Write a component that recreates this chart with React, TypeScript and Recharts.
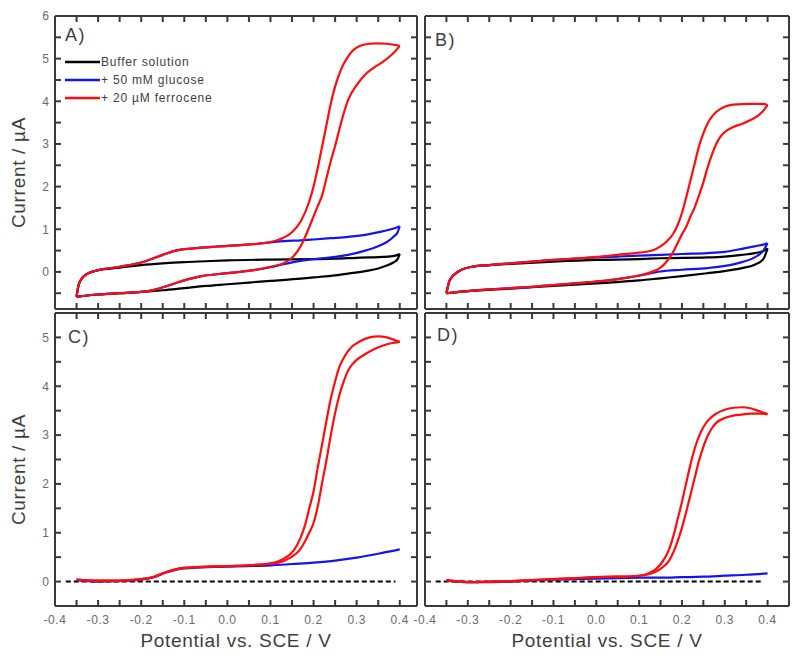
import React from "react";
import { LineChart, Line, XAxis, YAxis, Legend, Label } from "recharts";

type Pt = [number, number];

// Panel A: raw CVs (potential / V, current / uA), upper and lower branch of each loop
const aBufferUpper: Pt[] = [[-0.35,-0.58],[-0.345,-0.3],[-0.335,-0.12],[-0.32,-0.02],[-0.3,0.04],[-0.25,0.1],[-0.2,0.16],[-0.15,0.2],[-0.1,0.23],[-0.05,0.25],[0,0.27],[0.1,0.29],[0.2,0.3],[0.25,0.31],[0.3,0.33],[0.33,0.34],[0.36,0.35],[0.39,0.38],[0.4,0.42]];
const aBufferLower: Pt[] = [[-0.35,-0.58],[-0.3,-0.53],[-0.25,-0.5],[-0.2,-0.47],[-0.15,-0.43],[-0.1,-0.38],[-0.05,-0.33],[0,-0.29],[0.05,-0.25],[0.1,-0.21],[0.17,-0.16],[0.2,-0.13],[0.25,-0.08],[0.28,-0.04],[0.32,0.02],[0.35,0.08],[0.37,0.15],[0.385,0.22],[0.395,0.3],[0.4,0.42]];
const aGlucoseUpper: Pt[] = [[-0.35,-0.58],[-0.345,-0.3],[-0.335,-0.12],[-0.32,-0.02],[-0.3,0.04],[-0.25,0.12],[-0.2,0.22],[-0.15,0.4],[-0.12,0.5],[-0.08,0.55],[-0.03,0.59],[0.02,0.62],[0.07,0.66],[0.1,0.69],[0.13,0.72],[0.17,0.74],[0.2,0.76],[0.24,0.79],[0.28,0.82],[0.32,0.87],[0.36,0.95],[0.39,1.03],[0.4,1.07]];
const aGlucoseLower: Pt[] = [[-0.35,-0.58],[-0.3,-0.53],[-0.25,-0.5],[-0.2,-0.47],[-0.17,-0.42],[-0.14,-0.33],[-0.1,-0.2],[-0.06,-0.1],[-0.02,-0.05],[0.02,-0.01],[0.06,0.04],[0.1,0.11],[0.13,0.18],[0.17,0.26],[0.2,0.3],[0.24,0.34],[0.28,0.4],[0.32,0.5],[0.35,0.6],[0.37,0.7],[0.385,0.82],[0.395,0.93],[0.4,1.07]];
const aFerroceneUpper: Pt[] = [[-0.35,-0.58],[-0.345,-0.3],[-0.335,-0.12],[-0.32,-0.02],[-0.3,0.04],[-0.25,0.12],[-0.2,0.22],[-0.15,0.4],[-0.12,0.5],[-0.08,0.55],[-0.03,0.59],[0.02,0.62],[0.07,0.66],[0.1,0.7],[0.13,0.8],[0.15,0.93],[0.17,1.18],[0.19,1.65],[0.2,2.0],[0.21,2.45],[0.22,2.95],[0.23,3.45],[0.24,3.95],[0.25,4.35],[0.26,4.65],[0.27,4.88],[0.28,5.05],[0.29,5.18],[0.3,5.26],[0.31,5.31],[0.33,5.35],[0.35,5.36],[0.37,5.35],[0.39,5.32],[0.4,5.3]];
const aFerroceneLower: Pt[] = [[-0.35,-0.58],[-0.3,-0.53],[-0.25,-0.5],[-0.2,-0.47],[-0.17,-0.42],[-0.14,-0.33],[-0.1,-0.2],[-0.06,-0.1],[-0.02,-0.05],[0.02,-0.01],[0.06,0.04],[0.1,0.12],[0.13,0.2],[0.15,0.33],[0.17,0.6],[0.19,1.05],[0.2,1.3],[0.21,1.55],[0.22,1.8],[0.23,2.2],[0.24,2.6],[0.25,2.95],[0.26,3.35],[0.27,3.72],[0.28,4.03],[0.3,4.38],[0.32,4.63],[0.34,4.79],[0.36,4.92],[0.38,5.08],[0.39,5.18],[0.4,5.3]];

// Panel B
const bBufferUpper: Pt[] = [[-0.35,-0.5],[-0.342,-0.19],[-0.322,0.01],[-0.29,0.12],[-0.25,0.16],[-0.2,0.19],[-0.1,0.24],[0,0.28],[0.1,0.3],[0.15,0.32],[0.26,0.34],[0.3,0.36],[0.34,0.4],[0.37,0.44],[0.39,0.49],[0.4,0.55]];
const bBufferLower: Pt[] = [[-0.35,-0.5],[-0.3,-0.45],[-0.2,-0.39],[-0.1,-0.33],[0,-0.27],[0.1,-0.2],[0.15,-0.15],[0.2,-0.1],[0.26,-0.03],[0.3,0.02],[0.34,0.09],[0.37,0.17],[0.39,0.3],[0.4,0.55]];
const bGlucoseUpper: Pt[] = [[-0.35,-0.5],[-0.342,-0.19],[-0.322,0.01],[-0.29,0.12],[-0.25,0.16],[-0.2,0.2],[-0.15,0.24],[-0.1,0.28],[-0.05,0.31],[0,0.34],[0.05,0.36],[0.1,0.38],[0.15,0.4],[0.2,0.42],[0.26,0.44],[0.3,0.47],[0.34,0.54],[0.37,0.6],[0.39,0.64],[0.4,0.67]];
const bGlucoseLower: Pt[] = [[-0.35,-0.5],[-0.3,-0.45],[-0.25,-0.41],[-0.2,-0.38],[-0.15,-0.35],[-0.1,-0.31],[-0.05,-0.27],[0,-0.23],[0.05,-0.17],[0.1,-0.09],[0.15,0.01],[0.2,0.05],[0.26,0.09],[0.3,0.14],[0.34,0.23],[0.37,0.34],[0.39,0.5],[0.4,0.67]];
const bFerroceneUpper: Pt[] = [[-0.35,-0.5],[-0.342,-0.19],[-0.322,0.01],[-0.29,0.12],[-0.25,0.16],[-0.2,0.2],[-0.15,0.24],[-0.1,0.28],[-0.05,0.31],[0,0.35],[0.05,0.4],[0.1,0.45],[0.13,0.5],[0.15,0.6],[0.165,0.72],[0.18,0.9],[0.19,1.1],[0.2,1.38],[0.21,1.75],[0.22,2.15],[0.23,2.55],[0.24,2.95],[0.25,3.25],[0.26,3.48],[0.27,3.64],[0.28,3.75],[0.3,3.87],[0.32,3.92],[0.36,3.94],[0.39,3.94],[0.4,3.91]];
const bFerroceneLower: Pt[] = [[-0.35,-0.5],[-0.3,-0.45],[-0.25,-0.41],[-0.2,-0.38],[-0.15,-0.35],[-0.1,-0.31],[-0.05,-0.27],[0,-0.23],[0.05,-0.17],[0.086,-0.11],[0.11,-0.06],[0.13,0.0],[0.15,0.1],[0.165,0.25],[0.178,0.44],[0.19,0.68],[0.2,0.88],[0.21,1.06],[0.22,1.3],[0.23,1.52],[0.24,1.8],[0.25,2.1],[0.26,2.45],[0.27,2.75],[0.28,3.0],[0.29,3.17],[0.3,3.28],[0.32,3.4],[0.34,3.47],[0.36,3.56],[0.38,3.68],[0.39,3.78],[0.4,3.91]];

// Panel C: buffer-subtracted
const cBaseline: Pt[] = [[-0.375,0],[0.39,0]];
const cGlucose: Pt[] = [[-0.35,0.03],[-0.3,0.0],[-0.25,0.01],[-0.2,0.04],[-0.17,0.09],[-0.14,0.19],[-0.11,0.26],[-0.08,0.28],[-0.03,0.3],[0.02,0.31],[0.06,0.32],[0.1,0.33],[0.15,0.36],[0.2,0.39],[0.25,0.43],[0.3,0.49],[0.35,0.57],[0.4,0.66]];
const cFerroceneUpper: Pt[] = [[-0.35,0.04],[-0.3,0.02],[-0.25,0.02],[-0.2,0.05],[-0.17,0.1],[-0.14,0.2],[-0.11,0.27],[-0.08,0.29],[-0.03,0.31],[0.02,0.32],[0.06,0.34],[0.09,0.36],[0.12,0.42],[0.14,0.52],[0.155,0.65],[0.17,0.9],[0.18,1.15],[0.19,1.5],[0.2,1.85],[0.21,2.35],[0.22,2.82],[0.23,3.3],[0.24,3.75],[0.25,4.1],[0.26,4.4],[0.27,4.58],[0.28,4.72],[0.29,4.82],[0.3,4.88],[0.31,4.93],[0.33,5.0],[0.35,5.02],[0.37,5.0],[0.39,4.94],[0.4,4.91]];
const cFerroceneLower: Pt[] = [[-0.35,0.04],[-0.3,0.02],[-0.25,0.02],[-0.2,0.05],[-0.17,0.1],[-0.14,0.2],[-0.11,0.27],[-0.08,0.29],[-0.03,0.31],[0.02,0.32],[0.06,0.34],[0.1,0.37],[0.12,0.39],[0.144,0.48],[0.168,0.65],[0.18,0.82],[0.19,1.0],[0.2,1.2],[0.21,1.55],[0.22,2.03],[0.23,2.49],[0.24,3.0],[0.25,3.45],[0.26,3.82],[0.27,4.1],[0.28,4.32],[0.29,4.45],[0.3,4.54],[0.32,4.66],[0.34,4.76],[0.36,4.83],[0.38,4.88],[0.4,4.91]];

// Panel D
const dBaseline: Pt[] = [[-0.375,0],[0.39,0]];
const dGlucose: Pt[] = [[-0.35,0.02],[-0.3,-0.01],[-0.25,-0.01],[-0.2,0.0],[-0.15,0.02],[-0.1,0.04],[-0.05,0.05],[0,0.06],[0.05,0.07],[0.1,0.08],[0.15,0.08],[0.2,0.09],[0.25,0.1],[0.3,0.12],[0.35,0.14],[0.4,0.17]];
const dFerroceneUpper: Pt[] = [[-0.35,0.03],[-0.3,-0.01],[-0.25,0.0],[-0.2,0.01],[-0.15,0.03],[-0.1,0.05],[-0.05,0.07],[0,0.09],[0.05,0.1],[0.1,0.12],[0.12,0.16],[0.14,0.26],[0.16,0.48],[0.17,0.66],[0.18,0.93],[0.19,1.28],[0.2,1.63],[0.21,2.02],[0.22,2.4],[0.23,2.73],[0.24,2.98],[0.25,3.16],[0.26,3.29],[0.28,3.44],[0.3,3.52],[0.32,3.56],[0.34,3.57],[0.36,3.55],[0.38,3.49],[0.4,3.43]];
const dFerroceneLower: Pt[] = [[-0.35,0.03],[-0.3,-0.01],[-0.25,0.0],[-0.2,0.01],[-0.15,0.03],[-0.1,0.05],[-0.05,0.07],[0,0.09],[0.05,0.1],[0.1,0.12],[0.13,0.17],[0.15,0.26],[0.17,0.43],[0.18,0.6],[0.19,0.83],[0.2,1.1],[0.21,1.43],[0.22,1.78],[0.23,2.13],[0.24,2.48],[0.25,2.76],[0.26,2.98],[0.27,3.14],[0.28,3.25],[0.3,3.35],[0.32,3.4],[0.34,3.42],[0.36,3.44],[0.38,3.44],[0.4,3.43]];

// ticks
const xLabelTicks = [-0.4, -0.3, -0.2, -0.1, 0.0, 0.1, 0.2, 0.3, 0.4];
const xMarkTicks = [-0.35, -0.3, -0.25, -0.2, -0.15, -0.1, -0.05, 0, 0.05, 0.1, 0.15, 0.2, 0.25, 0.3, 0.35, 0.4];
const yTopLabelTicks = [0, 1, 2, 3, 4, 5, 6];
const yTopMarkTicks = [-0.5, 0, 0.5, 1, 1.5, 2, 2.5, 3, 3.5, 4, 4.5, 5, 5.5];
const yBottomLabelTicks = [0, 1, 2, 3, 4, 5];
const yBottomMarkTicks = [0, 0.5, 1, 1.5, 2, 2.5, 3, 3.5, 4, 4.5, 5];

const seriesNames = ["Buffer solution", "+ 50 mM glucose", "+ 20 µM ferrocene"];
const BLACK = "#000000";
const BLUE = "#1414f0";
const RED = "#ff0d0d";
const seriesColors = [BLACK, BLUE, RED];

const W = 800;
const H = 659;
const Y_AXIS_W = 55;
const X_AXIS_H = 53;
const TICK_LEN = 6;
const TICK_W = 2;
const FONT = 'Arial, "Liberation Sans", sans-serif';
const FRAME = "#3a3a3a";
const TICK_TEXT = "#6a6a6a";
const TITLE_TEXT = "#3e3e3e";

const toPoints = (pts: Pt[]) => pts.map(([x, y]) => ({ x, y }));

interface Curve {
  points: Pt[];
  color: string;
  dashed?: boolean;
}

interface Box { left: number; top: number; right: number; bottom: number }

interface PanelProps {
  letter: string;
  letterDx: number;
  letterDy: number;
  box: Box;
  xMax: number;
  yDomain: [number, number];
  yLabelTicks: number[];
  yMarkTicks: number[];
  showX: boolean;
  showY: boolean;
  showLegend?: boolean;
  curves: Curve[];
}

const renderLegend = () => (
  <div style={{ fontFamily: FONT, fontSize: 12, color: "#404040", letterSpacing: 0.8 }}>
    {seriesNames.map((name, i) => (
      <div key={name} style={{ display: "flex", alignItems: "center", height: 17.7 }}>
        <svg width={35} height={6}>
          <line x1={0} y1={3} x2={35} y2={3} stroke={seriesColors[i]} strokeWidth={2.5} />
        </svg>
        <span style={{ marginLeft: 1, whiteSpace: "nowrap" }}>{name}</span>
      </div>
    ))}
  </div>
);

const Panel: React.FC<PanelProps> = ({
  letter, letterDx, letterDy, box, xMax, yDomain, yLabelTicks, yMarkTicks, showX, showY, showLegend, curves,
}) => {
  const xDomain: [number, number] = [-0.4, xMax];
  const margin = {
    top: box.top,
    right: W - box.right,
    bottom: H - box.bottom - (showX ? X_AXIS_H : 0),
    left: box.left - (showY ? Y_AXIS_W : 0),
  };
  const cy = (box.top + box.bottom) / 2 + 10;
  const cx = (box.left + box.right) / 2;
  const [y0, y1] = yDomain;
  const plotW = box.right - box.left;
  const plotH = box.bottom - box.top;
  // same linear mapping as the axes, used only for the frame tick marks
  const px = (v: number) => box.left + ((v + 0.4) / (xMax + 0.4)) * plotW;
  const py = (v: number) => box.bottom - ((v - y0) / (y1 - y0)) * plotH;

  const frameAxis = {
    type: "number" as const,
    allowDataOverflow: true,
    mirror: true,
    tick: false,
    tickLine: false,
    axisLine: { stroke: FRAME, strokeWidth: 2 },
  };

  // panel letter plus the inward tick marks of all four edges
  const renderFrameDecor = () => (
    <g>
      {xMarkTicks.map((t) => (
        <rect key={`b${t}`} x={px(t) - TICK_W / 2} y={box.bottom - TICK_LEN} width={TICK_W} height={TICK_LEN} fill={FRAME} />
      ))}
      {xMarkTicks.map((t) => (
        <rect key={`t${t}`} x={px(t) - TICK_W / 2} y={box.top} width={TICK_W} height={TICK_LEN} fill={FRAME} />
      ))}
      {yMarkTicks.map((t) => (
        <rect key={`l${t}`} x={box.left} y={py(t) - TICK_W / 2} width={TICK_LEN} height={TICK_W} fill={FRAME} />
      ))}
      {yMarkTicks.map((t) => (
        <rect key={`r${t}`} x={box.right - TICK_LEN} y={py(t) - TICK_W / 2} width={TICK_LEN} height={TICK_W} fill={FRAME} />
      ))}
      <text x={box.left + letterDx} y={box.top + letterDy} fill={TITLE_TEXT} fontSize={18} letterSpacing={1.5}>
        {letter}
      </text>
    </g>
  );

  return (
    <div style={{ position: "absolute", left: 0, top: 0 }}>
      <LineChart width={W} height={H} margin={margin} style={{ fontFamily: FONT }}>
        <XAxis
          xAxisId="lab" type="number" dataKey="x" domain={xDomain} allowDataOverflow
          ticks={xLabelTicks} interval={0} hide={!showX} height={X_AXIS_H}
          tickLine={false} axisLine={false} tickSize={0} tickMargin={9}
          tick={{ fill: TICK_TEXT, fontSize: 12, letterSpacing: 0.6 }}
          tickFormatter={(v: number) => v.toFixed(1)}
        >
          <Label
            content={() => (
              <text x={cx} y={box.bottom + 34} textAnchor="middle" dominantBaseline="central"
                fill={TITLE_TEXT} fontSize={19} letterSpacing={0.7}>
                Potential vs. SCE / V
              </text>
            )}
          />
        </XAxis>
        <XAxis xAxisId="bot" orientation="bottom" domain={xDomain} {...frameAxis} />
        <XAxis xAxisId="top" orientation="top" domain={xDomain} {...frameAxis}>
          <Label content={renderFrameDecor} />
        </XAxis>
        <YAxis
          yAxisId="lab" type="number" domain={yDomain} allowDataOverflow
          ticks={yLabelTicks} interval={0} hide={!showY} width={Y_AXIS_W}
          tickLine={false} axisLine={false} tickSize={0} tickMargin={6}
          tick={{ fill: TICK_TEXT, fontSize: 12 }}
        >
          <Label
            content={() => (
              <text x={18} y={cy} textAnchor="middle" dominantBaseline="central"
                transform={`rotate(-90, 18, ${cy})`} fill={TITLE_TEXT} fontSize={19} letterSpacing={0.7}>
                Current / µA
              </text>
            )}
          />
        </YAxis>
        <YAxis yAxisId="left" orientation="left" domain={yDomain} {...frameAxis} />
        <YAxis yAxisId="right" orientation="right" domain={yDomain} {...frameAxis} />

        {curves.map((c, i) => (
          <Line
            key={i}
            data={toPoints(c.points)}
            dataKey="y"
            xAxisId="lab"
            yAxisId="lab"
            type={c.dashed ? "linear" : "monotone"}
            stroke={c.color}
            strokeWidth={c.dashed ? 2 : 2.2}
            strokeDasharray={c.dashed ? "5 3" : undefined}
            dot={false}
            activeDot={false}
            legendType="none"
            isAnimationActive={false}
          />
        ))}
        {showLegend && (
          <Legend
            layout="vertical"
            align="center"
            verticalAlign="middle"
            wrapperStyle={{ left: 65, top: 53.5, width: "auto", height: "auto" }}
            content={renderLegend}
          />
        )}
      </LineChart>
    </div>
  );
};

export default function App() {
  return (
    <div style={{ position: "absolute", left: 0, top: 0, width: W, height: H, background: "#ffffff" }}>
      <Panel
        letter="A)" letterDx={10} letterDy={25}
        box={{ left: 55, top: 16, right: 417, bottom: 309 }}
        xMax={0.44} yDomain={[-0.87, 6]} yLabelTicks={yTopLabelTicks} yMarkTicks={yTopMarkTicks}
        showX={false} showY showLegend
        curves={[
          { points: aBufferUpper, color: BLACK }, { points: aBufferLower, color: BLACK },
          { points: aGlucoseUpper, color: BLUE }, { points: aGlucoseLower, color: BLUE },
          { points: aFerroceneUpper, color: RED }, { points: aFerroceneLower, color: RED },
        ]}
      />
      <Panel
        letter="B)" letterDx={10} letterDy={30}
        box={{ left: 425, top: 16, right: 789, bottom: 309 }}
        xMax={0.45} yDomain={[-0.87, 6]} yLabelTicks={yTopLabelTicks} yMarkTicks={yTopMarkTicks}
        showX={false} showY={false}
        curves={[
          { points: bBufferUpper, color: BLACK }, { points: bBufferLower, color: BLACK },
          { points: bGlucoseUpper, color: BLUE }, { points: bGlucoseLower, color: BLUE },
          { points: bFerroceneUpper, color: RED }, { points: bFerroceneLower, color: RED },
        ]}
      />
      <Panel
        letter="C)" letterDx={13} letterDy={30}
        box={{ left: 55, top: 313, right: 417, bottom: 606 }}
        xMax={0.44} yDomain={[-0.5, 5.5]} yLabelTicks={yBottomLabelTicks} yMarkTicks={yBottomMarkTicks}
        showX showY
        curves={[
          { points: cBaseline, color: BLACK, dashed: true },
          { points: cGlucose, color: BLUE },
          { points: cFerroceneUpper, color: RED }, { points: cFerroceneLower, color: RED },
        ]}
      />
      <Panel
        letter="D)" letterDx={12} letterDy={28}
        box={{ left: 425, top: 313, right: 789, bottom: 606 }}
        xMax={0.45} yDomain={[-0.5, 5.5]} yLabelTicks={yBottomLabelTicks} yMarkTicks={yBottomMarkTicks}
        showX showY={false}
        curves={[
          { points: dBaseline, color: BLACK, dashed: true },
          { points: dGlucose, color: BLUE },
          { points: dFerroceneUpper, color: RED }, { points: dFerroceneLower, color: RED },
        ]}
      />
    </div>
  );
}
